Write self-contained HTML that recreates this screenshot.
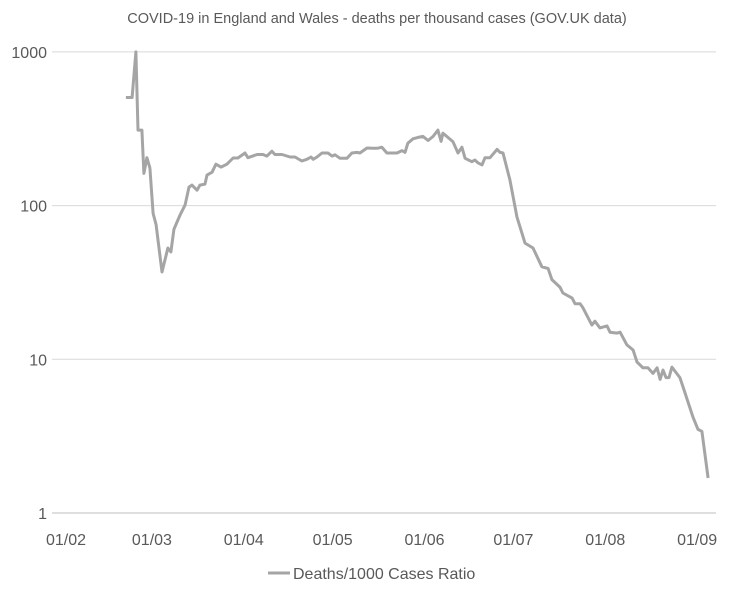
<!DOCTYPE html>
<html><head><meta charset="utf-8"><style>
body{margin:0;background:#fff;}
svg text{font-family:"Liberation Sans",sans-serif;fill:#595959;}
</style></head><body>
<svg id="chart" width="754" height="595">
<text x="377" y="23" text-anchor="middle" font-size="14.5">COVID-19 in England and Wales - deaths per thousand cases (GOV.UK data)</text>
<g id="grid"></g><g id="yt"></g><g id="xt"></g><g id="series"></g>
<line x1="268" y1="573" x2="290" y2="573" stroke="#a5a5a5" stroke-width="3"/>
<text x="293" y="579" font-size="16">Deaths/1000 Cases Ratio</text>
</svg>
<script>
const yTicks=[1,10,100,1000];
const xTickLabels=["01/02","01/03","01/04","01/05","01/06","01/07","01/08","01/09"];
const xTickDays=[0,29,60,90,121,151,182,213];
const days=[20.2,22.3,23.6,24.3,25.6,26.3,27.3,28.3,29.4,30.4,32.4,34.4,35.4,36.4,38.5,40.2,41.5,42.5,44.2,45.2,46.9,47.6,49.3,50.6,52.3,54.3,56.4,58,60.4,61.4,64.5,66.5,67.8,69.5,70.5,72.9,75.6,77.3,79.6,81.3,82.7,83.4,84.7,86.4,88.4,89.8,90.8,92.5,94.8,96.5,98.2,99.2,101.6,103.6,105,106.6,108.3,110,111.7,113.4,114.4,115.4,117.1,118.8,120.5,122.2,123.9,125.5,126.6,127.2,128.9,130.6,132.3,133.6,134.7,137,138,139,140.4,141.4,143.1,145.5,146.5,147.5,149.8,152.2,154.9,157.6,160.6,162.7,164,166.7,167.7,170.8,171.8,173.5,174.5,177.5,178.5,180.2,182.6,183.6,186,187,189.3,191.4,192.7,194.7,196.4,198.1,199.5,200.5,201.5,202.5,203.5,204.5,207.2,208.6,211.6,213.3,214.6,216.7];
const ratios=[505,505,1000,310,310,162,205,176,89,75,37,53,50,70,87,101,132,136,126,136,138,158,165,186,178,186,204,204,220,205,215,215,210,226,215,215,207,207,195,200,207,200,207,220,220,210,214,203,203,220,222,220,237,236,236,240,220,220,220,228,222,255,272,278,282,265,282,310,262,296,278,260,220,240,203,193,198,190,184,205,205,232,222,220,147,84,57,53,40,39,33,29.5,27,25,23,23,21.6,16.7,17.7,16,16.5,15,14.8,15,12.4,11.5,9.6,8.8,8.8,8.1,8.8,7.4,8.5,7.6,7.6,8.9,7.6,6.3,4.2,3.5,3.4,1.69];
const NS="http://www.w3.org/2000/svg";
const L=52,R=716;
function X(d){return 66+d*2.963;}
function Y(v){return 513-153.7*Math.log10(v);}
const grid=document.getElementById('grid'),yt=document.getElementById('yt'),xt=document.getElementById('xt'),ser=document.getElementById('series');
yTicks.forEach(v=>{
const g=document.createElementNS(NS,'line');


g.setAttribute('x1',L);g.setAttribute('x2',R);g.setAttribute('y1',Y(v));g.setAttribute('y2',Y(v));
g.setAttribute('stroke',v===1?'#bfbfbf':'#d9d9d9');g.setAttribute('stroke-width','1');
grid.appendChild(g);
const t=document.createElementNS(NS,'text');


t.setAttribute('x',47);t.setAttribute('y',Y(v)+6);t.setAttribute('text-anchor','end');t.setAttribute('font-size','16');
t.textContent=v;yt.appendChild(t);
});
xTickLabels.forEach((s,i)=>{
const t=document.createElementNS(NS,'text');


t.setAttribute('x',X(xTickDays[i]));t.setAttribute('y',545);t.setAttribute('text-anchor','middle');t.setAttribute('font-size','16');
t.textContent=s;xt.appendChild(t);
});
const p=document.createElementNS(NS,'polyline');


p.setAttribute('points',days.map((d,i)=>X(d).toFixed(1)+','+Y(ratios[i]).toFixed(1)).join(' '));
p.setAttribute('fill','none');p.setAttribute('stroke','#a5a5a5');p.setAttribute('stroke-width','3');p.setAttribute('stroke-linejoin','round');
ser.appendChild(p);
</script>
</body></html>
